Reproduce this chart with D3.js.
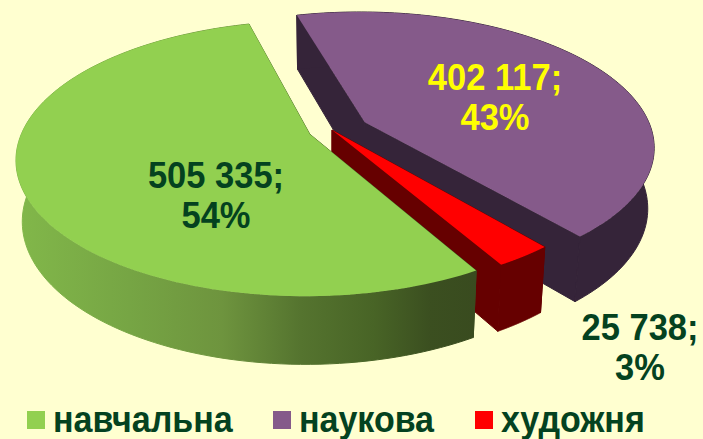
<!DOCTYPE html>
<html>
<head>
<meta charset="utf-8">
<script src="https://cdn.jsdelivr.net/npm/d3@7"></script>
<style>
html, body { margin: 0; padding: 0; background: #ffffd0; }
svg { display: block; }
text { font-family: "Liberation Sans", Arial, sans-serif; font-weight: bold; }
</style>
</head>
<body>
<div id="chart"></div>
<script>
// chart values
var categories = ["навчальна", "наукова", "художня"];
var values = [505335, 402117, 25738];
var percents = [54, 43, 3];

var width = 703, height = 439;
var topColor = ["#92d050", "#855a8a", "#ff0000"];
var wallColor = ["url(#greenWall)", "#352439", "#660000"];
var labelColor = ["#04421f", "#ffff00", "#04421f"];
var explode = [0.083, 0.13, 0];
var labelAt = [[216, 188], [495, 90], [640, 340]];
var legendX = [27, 273, 475];
var drawOrder = [1, 2, 0];

// tilted plane of the pie, with a bit of perspective
var cx = 332, cy = 130, k = 0.175;
var xScale = d3.scaleLinear().domain([-1, 1]).range([cx - 287, cx + 287]);
var yScale = d3.scaleLinear().domain([-1, 1]).range([cy - 132, cy + 132]);

function project(X, Y) {
  var w = 1 - k * Y;
  return [cx + (xScale(X) - cx) / w, cy + (yScale(Y) - cy) / w];
}
// same point on the lower face of the disc
function lower(p) {
  return [cx + 0.98 * (p[0] - cx), p[1] + 54 + 0.05 * (p[1] - 13)];
}

var svg = d3.select("#chart").append("svg")
    .attr("width", width)
    .attr("height", height);

svg.append("rect")
    .attr("width", width)
    .attr("height", height)
    .attr("fill", "#ffffd0");

var grad = svg.append("defs").append("linearGradient")
    .attr("id", "greenWall")
    .attr("gradientUnits", "userSpaceOnUse")
    .attr("x1", 14).attr("x2", 476).attr("y1", 0).attr("y2", 0);
[[0, "#82b84a"], [0.25, "#76a544"], [0.45, "#6e943e"], [0.62, "#55742f"], [0.78, "#486426"], [0.9, "#3b4f20"], [1, "#394b1f"]]
  .forEach(function(s) {
    grad.append("stop").attr("offset", s[0]).attr("stop-color", s[1]);
  });

var pie = d3.pie().sort(null).startAngle(150 * Math.PI / 180).endAngle(510 * Math.PI / 180);
var arcs = pie(values);
var line = d3.line();

function slicePoints(a, i) {
  var mid = (a.startAngle + a.endAngle) / 2;
  var ox = explode[i] * Math.sin(mid), oy = -explode[i] * Math.cos(mid);
  var apex = project(ox, oy);
  var rim = d3.range(0, 121).map(function(n) {
    var t = a.startAngle + (a.endAngle - a.startAngle) * n / 120;
    return project(ox + Math.sin(t), oy - Math.cos(t));
  });
  return { apex: apex, rim: rim };
}

drawOrder.forEach(function(i) {
  var s = slicePoints(arcs[i], i);
  var g = svg.append("g").attr("class", "slice");

  // walls first, top face goes over them
  var last = s.rim[s.rim.length - 1];
  var rimWall = s.rim.concat(s.rim.map(lower).reverse());
  var startWall = [s.apex, s.rim[0], lower(s.rim[0]), lower(s.apex)];
  var endWall = [s.apex, last, lower(last), lower(s.apex)];
  [startWall, endWall, rimWall].forEach(function(pts) {
    g.append("path")
      .attr("d", line(pts) + "Z")
      .attr("fill", wallColor[i])
      .attr("stroke", wallColor[i])
      .attr("stroke-width", 1)
      .attr("stroke-linejoin", "round");
  });

  g.append("path")
    .attr("d", line([s.apex].concat(s.rim)) + "Z")
    .attr("fill", topColor[i]);
});

// text is a little taller than the regular font, so stretch it
function stretched(x, y, size, color, anchor, str) {
  svg.append("text")
      .attr("transform", "translate(" + x + "," + y + ") scale(1,1.07)")
      .attr("text-anchor", anchor)
      .attr("fill", color)
      .attr("font-size", size)
      .text(str);
}

// data labels
var fmt = d3.format(",");
categories.forEach(function(c, i) {
  stretched(labelAt[i][0], labelAt[i][1], 34.5, labelColor[i], "middle", fmt(values[i]).replace(/,/g, " ") + ";");
  stretched(labelAt[i][0], labelAt[i][1] + 40, 34.5, labelColor[i], "middle", percents[i] + "%");
});

// legend
categories.forEach(function(c, i) {
  svg.append("rect")
      .attr("x", legendX[i]).attr("y", 411)
      .attr("width", 18).attr("height", 18)
      .attr("fill", topColor[i]);
  stretched(legendX[i] + 26, 432, 34, "#04421f", "start", c);
});
</script>
</body>
</html>
